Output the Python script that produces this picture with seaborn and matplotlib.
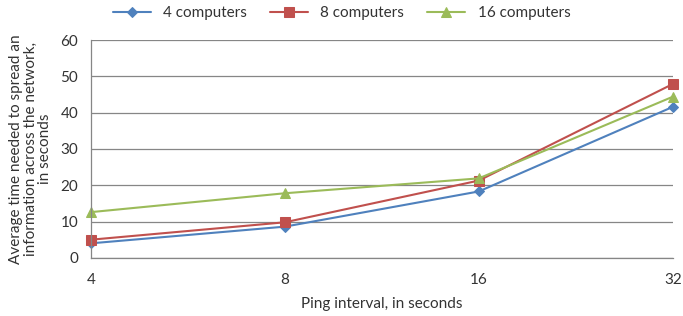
import matplotlib
matplotlib.use('Agg')
import matplotlib.pyplot as plt
import seaborn as sns
import pandas as pd

# Chart values
ping_intervals = ['4', '8', '16', '32']
series_names = ['4 computers', '8 computers', '16 computers']
time_4 = [4.0, 8.6, 18.3, 41.6]
time_8 = [5.0, 9.8, 21.3, 47.9]
time_16 = [12.6, 17.8, 21.9, 44.4]

colors = ['#4F81BD', '#C0504D', '#9BBB59']
markers = ['D', 's', '^']
marker_sizes = [5, 7, 7]

sns.set_style('white')
plt.rcParams['font.family'] = ['Lato', 'DejaVu Sans']

rows = []
for name, vals in zip(series_names, [time_4, time_8, time_16]):
    for i, v in enumerate(vals):
        rows.append({'pos': i, 'time': v, 'series': name})
df = pd.DataFrame(rows)

fig = plt.figure(figsize=(6.83, 3.16), dpi=100)
ax = fig.add_axes([0.133, 0.184, 0.852, 0.689])

for name, c, m, ms in zip(series_names, colors, markers, marker_sizes):
    sub = df[df['series'] == name]
    sns.lineplot(data=sub, x='pos', y='time', ax=ax, color=c, marker=m,
                 markersize=ms, markeredgecolor=c, linewidth=1.5, label=name,
                 clip_on=False)

ax.set_xlim(0, 3)
ax.set_ylim(0, 60)
ax.set_xticks(range(len(ping_intervals)))
ax.set_xticklabels(ping_intervals)
ax.set_yticks(range(0, 61, 10))

grid_col = '#868686'
ax.grid(axis='y', color=grid_col, linewidth=0.9)
ax.set_axisbelow(True)
for s in ['top', 'right']:
    ax.spines[s].set_visible(False)
for s in ['left', 'bottom']:
    ax.spines[s].set_color(grid_col)
    ax.spines[s].set_linewidth(0.9)
ax.tick_params(axis='both', which='major', direction='out', length=5, width=0.9,
               color=grid_col, labelsize=11, labelcolor='#333333', pad=4)
ax.tick_params(axis='x', pad=6)

ax.set_xlabel('Ping interval, in seconds', fontsize=11, color='#333333', labelpad=7)
ax.set_ylabel('Average time needed to spread an\ninformation across the network,\nin seconds',
              fontsize=11, color='#333333', labelpad=6, linespacing=1.05)

ax.legend(loc='upper center', bbox_to_anchor=(0.5, 1.0), bbox_transform=fig.transFigure,
          ncol=3, frameon=False, fontsize=11, handlelength=2.5, columnspacing=1.5,
          borderaxespad=0.0, labelcolor='#333333')

fig.savefig('out.png', dpi=100)
